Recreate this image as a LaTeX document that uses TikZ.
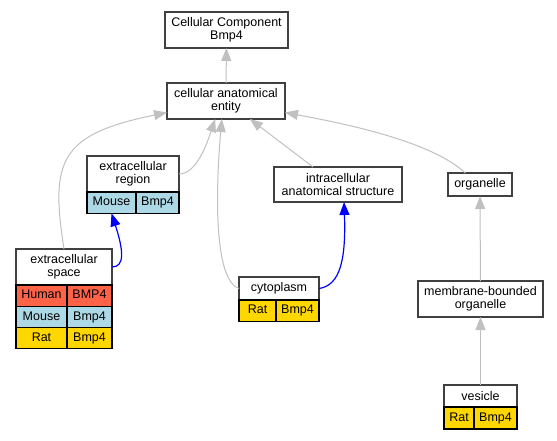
\documentclass[tikz,border=0pt]{standalone}
\usepackage{fontspec}
\setmainfont{Liberation Sans}
\usetikzlibrary{
  arrows.meta,
  positioning
}
\definecolor{humanred}{HTML}{FF6347}
\definecolor{mouseblue}{HTML}{ADD8E6}
\definecolor{ratgold}{HTML}{FFD700}
\definecolor{frame}{HTML}{404040}
\definecolor{edgegray}{HTML}{C0C0C0}
\tikzset{
  % For GO term labels.
  term/.style={
    draw=frame,
    line width=1.3pt,
    fill=white,
    inner sep=0pt,
    outer sep=0pt,
    align=center,
    font=\fontsize{12.5}{13.3}\selectfont},
%
  % For one cell of a species table.
  cell/.style={
    draw=black,
    line width=1.1pt,
    inner sep=0pt,
    outer sep=0pt,
    minimum height=21.3pt,
    text height=9pt,
    text depth=2.5pt,
    font=\fontsize{12.5}{13.3}\selectfont},
%
  % Species colours.
  human/.style={
    cell,
    fill=humanred},
  mouse/.style={
    cell,
    fill=mouseblue},
  rat/.style={
    cell,
    fill=ratgold},
%
  % For is-a links.
  isa/.style={
    draw=edgegray,
    line width=1pt,
    -{Triangle[length=13pt,width=10pt]}},
%
  % For links between annotated terms.
  annot/.style={
    draw=blue,
    line width=1.2pt,
    -{Triangle[length=13pt,width=10pt]}}
}

\begin{document}
\begin{tikzpicture}[x=1pt, y=-1pt]
  \useasboundingbox (0,0) rectangle (557,440);

  \node[term, minimum width=123pt, minimum height=36pt] (cc)
    at (226.5,30) {Cellular Component\\Bmp4};
  \node[term, minimum width=118pt, minimum height=36pt] (cae)
    at (226,101) {cellular anatomical\\entity};

  \node[term, minimum width=92pt, minimum height=36pt] (er)
    at (133,174) {extracellular\\region};
  \node[mouse, minimum width=49pt,
        below right=0pt and 0pt of er.south west] (er-mouse) {Mouse};
  \node[mouse, minimum width=43pt, right=0pt of er-mouse] (er-gene) {Bmp4};

  \node[term, minimum width=96pt, minimum height=36pt] (es)
    at (64,267) {extracellular\\space};
  \node[human, minimum width=51pt,
        below right=0pt and 0pt of es.south west] (es-human) {Human};
  \node[human, minimum width=45pt, right=0pt of es-human] (es-hgene) {BMP4};
  \node[mouse, minimum width=51pt, below=0pt of es-human] (es-mouse) {Mouse};
  \node[mouse, minimum width=45pt, right=0pt of es-mouse] (es-mgene) {Bmp4};
  \node[rat, minimum width=51pt, below=0pt of es-mouse] (es-rat) {Rat};
  \node[rat, minimum width=45pt, right=0pt of es-rat] (es-rgene) {Bmp4};

  \node[term, minimum width=128pt, minimum height=35pt] (ias)
    at (338,184.5) {intracellular\\anatomical structure};

  \node[term, minimum width=80pt, minimum height=23pt] (cyto)
    at (279,288.5) {cytoplasm};
  \node[rat, minimum width=37pt,
        below right=0pt and 0pt of cyto.south west] (cyto-rat) {Rat};
  \node[rat, minimum width=43pt, right=0pt of cyto-rat] (cyto-gene) {Bmp4};

  \node[term, minimum width=64pt, minimum height=23pt] (org)
    at (480,184.5) {organelle};
  \node[term, minimum width=125pt, minimum height=36pt] (mbo)
    at (480.5,299) {membrane-bounded\\organelle};

  \node[term, minimum width=73pt, minimum height=22pt] (ves)
    at (480.5,396) {vesicle};
  \node[rat, minimum width=30pt, minimum height=22pt,
        below right=0pt and 0pt of ves.south west] (ves-rat) {Rat};
  \node[rat, minimum width=43pt, minimum height=22pt,
        right=0pt of ves-rat] (ves-gene) {Bmp4};

  % is-a links
  \draw[isa] (cae) -- (cc);
  \draw[isa] (es.north) .. controls +(-14,-89) and +(-107,22) .. (cae.191);
  \draw[isa] (er.east) .. controls +(16,0) and +(-10,30) .. (cae.239);
  \draw[isa] (cyto.west) .. controls +(-24,-8) and +(-7,80) .. (cae.257);
  \draw[isa] (ias.145) -- (cae.323);
  \draw[isa] (org.142) .. controls +(-35,-33) and +(53,10) .. (cae.349);
  \draw[isa] (mbo) -- (org);
  \draw[isa] (ves) -- (mbo);

  % annotated links
  \draw[annot] (es.east) .. controls +(13,0) and +(12,37) .. (er-mouse.south);
  \draw[annot] (cyto.east) .. controls +(21,-3) and +(2,58) .. (ias.289);
\end{tikzpicture}
\end{document}
